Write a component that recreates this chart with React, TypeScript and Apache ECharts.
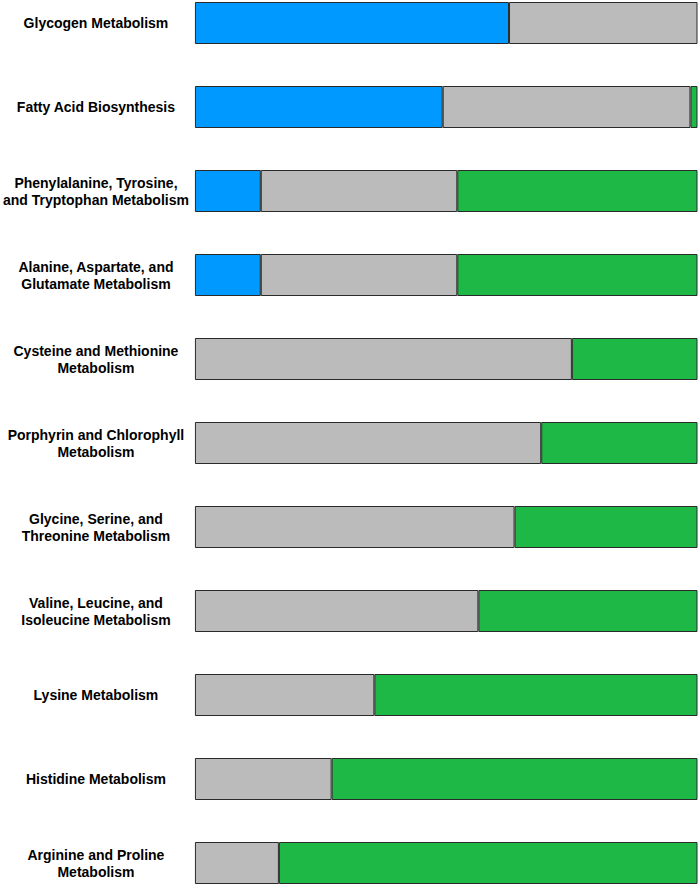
import React, { useEffect, useRef } from "react";
import * as echarts from "echarts";

const categories = [
  "Glycogen Metabolism",
  "Fatty Acid Biosynthesis",
  "Phenylalanine, Tyrosine,\nand Tryptophan Metabolism",
  "Alanine, Aspartate, and\nGlutamate Metabolism",
  "Cysteine and Methionine\nMetabolism",
  "Porphyrin and Chlorophyll\nMetabolism",
  "Glycine, Serine, and\nThreonine Metabolism",
  "Valine, Leucine, and\nIsoleucine Metabolism",
  "Lysine Metabolism",
  "Histidine Metabolism",
  "Arginine and Proline\nMetabolism",
];

const blueValues: (number | null)[] = [62.5, 49.3, 13.1, 13.1, null, null, null, null, null, null, null];
const grayValues: (number | null)[] = [37.5, 49.3, 39.1, 39.1, 75.0, 68.9, 63.6, 56.4, 35.7, 27.2, 16.7];
const greenValues: (number | null)[] = [null, 1.4, 47.8, 47.8, 25.0, 31.1, 36.4, 43.6, 64.3, 72.8, 83.3];

const seriesNames = ["Blue", "Gray", "Green"];
const seriesColors = ["#0099FF", "#BBBBBB", "#1DB846"];

export default function App() {
  const ref = useRef<HTMLDivElement>(null);
  useEffect(() => {
    if (!ref.current) return;
    const chart = echarts.init(ref.current, null, { renderer: "svg" });
    const values = [blueValues, grayValues, greenValues];
    chart.setOption({
      animation: false,
      grid: { left: 193.5, right: 2.5, top: 0, bottom: 0, containLabel: false },
      xAxis: { type: "value", min: 0, max: 100, show: false },
      yAxis: {
        type: "category",
        data: categories,
        inverse: true,
        axisLine: { show: false },
        axisTick: { show: false },
        splitLine: { show: false },
        axisLabel: {
          align: "center",
          margin: 99,
          fontFamily: "Liberation Sans, Arial, sans-serif",
          fontWeight: "bold",
          fontSize: 14,
          lineHeight: 17,
          color: "#000",
        },
      },
      series: values.map((v, i) => ({
        name: seriesNames[i],
        type: "bar",
        stack: "total",
        data: v,
        barWidth: 42,
        itemStyle: { color: seriesColors[i], borderColor: "#2a2a2a", borderWidth: 1 },
      })),
    });
    return () => chart.dispose();
  }, []);
  return (
    <div
      ref={ref}
      style={{ position: "fixed", left: 0, top: -19, width: 700, height: 924, background: "#fff" }}
    />
  );
}
